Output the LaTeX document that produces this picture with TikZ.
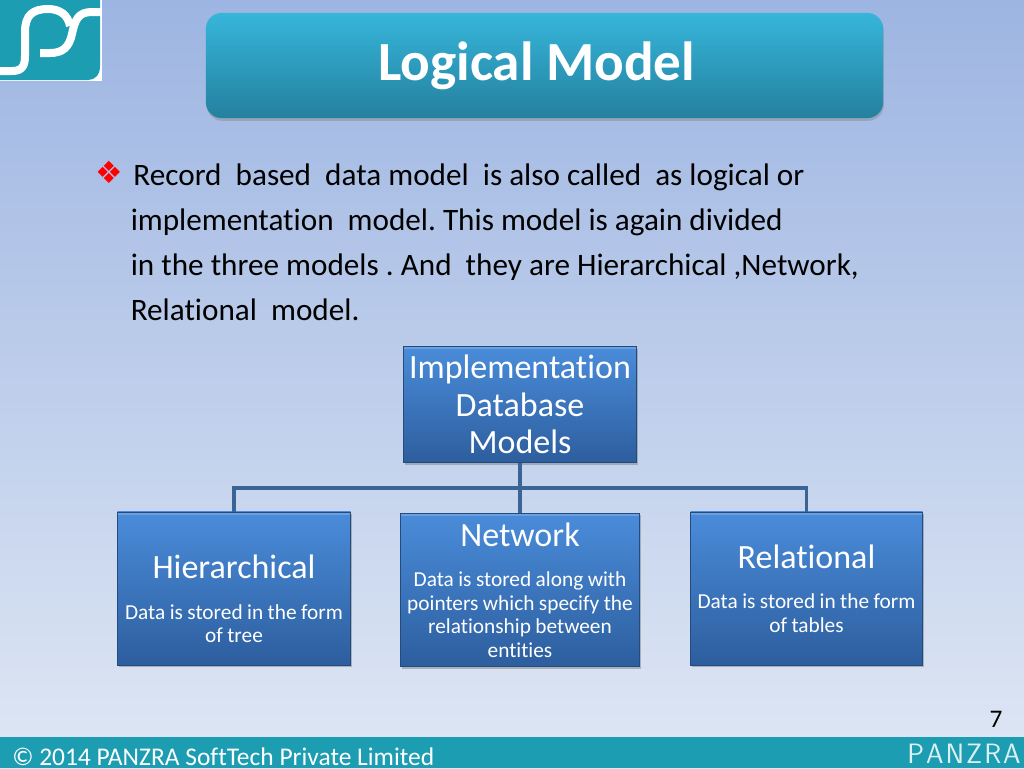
\documentclass[tikz,border=0pt]{standalone}
\usepackage{fontspec}
\setmainfont[Ligatures=NoCommon]{Carlito}
\newfontfamily\dingfont{DejaVu Sans}
\usetikzlibrary{shadows}
\definecolor{bgtop}{HTML}{9DB5E2}
\definecolor{bgbot}{HTML}{DFE7F4}
\definecolor{barteal}{HTML}{1C9DB1}
\definecolor{titletop}{HTML}{36B6DA}
\definecolor{titlebot}{HTML}{24809F}
\definecolor{boxtop}{HTML}{4A8CDA}
\definecolor{boxbot}{HTML}{2D5E9E}
\definecolor{linkblue}{HTML}{3A6496}
\frenchspacing
\tikzset{
  modelbox/.style={draw=boxbot!80!black,line width=0.4pt,top color=boxtop,bottom color=boxbot,
    drop shadow={shadow xshift=1pt,shadow yshift=-1.5pt,opacity=0.5},
    path picture={\fill[white,opacity=0.18] (path picture bounding box.north west) rectangle ([yshift=-2.2pt]path picture bounding box.north east);},
    text=white,align=center,inner sep=0pt,minimum height=115pt,text width=171pt},
  link/.style={draw=linkblue,line width=2.6pt},
  bodytext/.style={anchor=west,inner sep=0pt,text=black,font=\fontsize{23.4}{33.75}\selectfont,align=left}
}
\newcommand{\boxhead}[1]{{\fontsize{25.5}{28}\selectfont #1}}
\newcommand{\boxdesc}[1]{{\fontsize{16}{17.6}\selectfont #1\par}}
\begin{document}
\begin{tikzpicture}[x=0.75pt,y=0.75pt,yscale=-1,xscale=1]
    \useasboundingbox (0,0) rectangle (1024,768);
    % Background
    \shade[top color=bgtop,bottom color=bgbot] (0,0) rectangle (1024,768);
    \fill[barteal] (0,737) rectangle (1024,768);
    % Logo
    \fill[white] (0,0) rectangle (102,81);
    \fill[barteal] (0,0) -- (100,0) -- (100,66) .. controls (100,75) and (95,80) .. (88,80) -- (0,80) -- cycle;
    \draw[white,line width=6pt] (0,71) -- (12,71) .. controls (22,71) and (25,66) .. (25,56) -- (25,32) .. controls (25,15) and (33,9) .. (48,9) .. controls (60,9) and (68,15) .. (70,26);
    \draw[white,line width=6pt] (101,12) -- (92,12) .. controls (78,12) and (75,20) .. (72,34) .. controls (69,48) and (62,53) .. (50,53) -- (40,53);
    % Title
    \node[rounded corners=12pt,top color=titletop,bottom color=titlebot,
      drop shadow={shadow xshift=0.5pt,shadow yshift=-2pt,opacity=0.4},
      minimum width=508pt,minimum height=79pt,inner sep=0pt,text=white,
      font=\fontsize{41.4}{46}\bfseries\selectfont] (title) at (544.5,65.5) {\hspace*{-12pt}\raisebox{-1.5pt}{Logical Model}};
    % Text Node
    \node[anchor=center,inner sep=0pt,text=red,font=\dingfont\fontsize{23}{26}\selectfont] (bullet) at (109,172.5) {❖};
    % Text Node
    \node[bodytext] (para) at (130.5,242.5) {\hspace{2pt}Record\ \ based\ \ data model\ \ is also called\ \ as logical or\\
      implementation\ \ model. This model is again divided\\
      in the three models . And\ \ they are Hierarchical ,Network,\\
      Relational\ \ model.};
    % Boxes
    \node[modelbox,minimum height=87pt,text width=175pt,font=\fontsize{25.5}{28}\selectfont] (impl) at (520,404.5)
      {\raisebox{0.5pt}{Implementation}\\ Database\\ Models};
    \node[modelbox,text width=175pt] (hier) at (234,588.5)
      {\rule{0pt}{33.5pt}\boxhead{Hierarchical}\\[13pt] \boxdesc{Data is stored in the form\\ of tree}};
    \node[modelbox,text width=179pt] (net) at (520,590)
      {\boxhead{Network}\\[13pt] \boxdesc{Data is stored along with\\ pointers which specify the\\ relationship between\\ entities}};
    \node[modelbox,text width=174pt] (rel) at (806.5,588.5)
      {\boxhead{Relational}\\[13pt] \boxdesc{Data is stored in the form\\ of tables}};
    % Connectors
    \coordinate (bus) at (520,488);
    \draw[link] (impl.south) -- (net.north);
    \draw[link] (hier.north) |- (bus) -| (rel.north);
    % Footer
    \node[anchor=west,inner sep=0pt,text=white,font=\fontsize{19.1}{20}\selectfont] (footer) at (12,757) {© 2014 PANZRA SoftTech Private Limited};
    \node[anchor=east,inner sep=0pt,text=white!85!barteal,font=\sffamily\fontsize{21}{22}\selectfont] (brand) at (1021,754) {P\kern1.5pt A\kern1.5pt N\kern1.5pt Z\kern1.5pt R\kern1.5pt A};
    \node[inner sep=0pt,text=black,font=\fontsize{19}{20}\selectfont] (pagenum) at (996,719) {7};
\end{tikzpicture}
\end{document}
